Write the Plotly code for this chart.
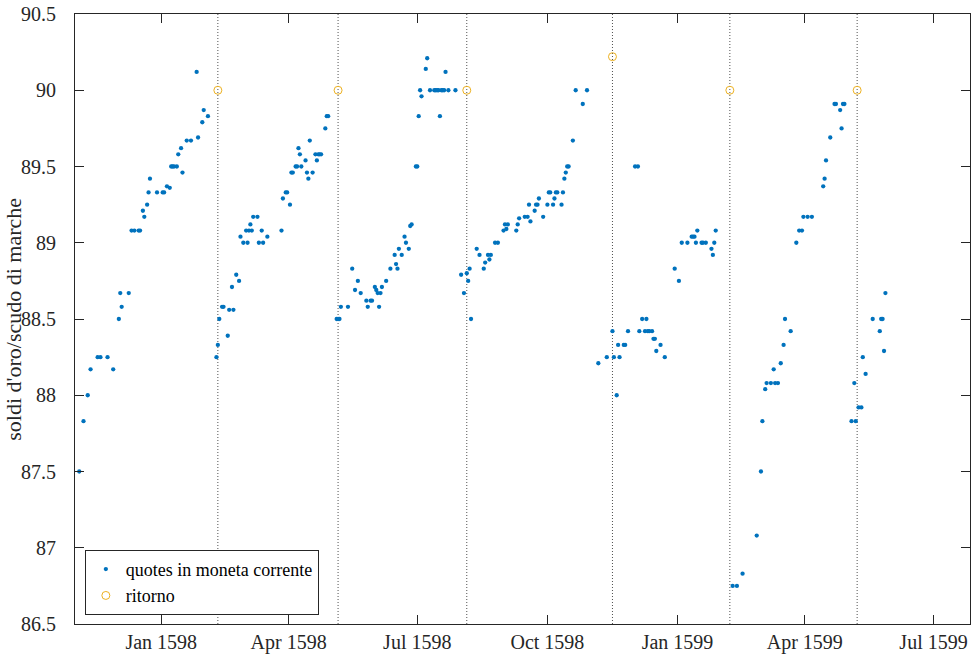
import plotly.graph_objects as go

# ---- data ----
quote_dates = [
    "1597-11-04", "1597-11-07", "1597-11-10", "1597-11-12", "1597-11-17", "1597-11-19",
    "1597-11-24", "1597-11-28", "1597-12-02", "1597-12-03", "1597-12-04", "1597-12-09",
    "1597-12-11", "1597-12-13", "1597-12-16", "1597-12-17", "1597-12-19", "1597-12-20",
    "1597-12-22", "1597-12-23", "1597-12-24", "1597-12-29", "1598-01-02", "1598-01-03",
    "1598-01-05", "1598-01-07", "1598-01-08", "1598-01-09", "1598-01-10", "1598-01-12",
    "1598-01-13", "1598-01-15", "1598-01-16", "1598-01-19", "1598-01-22", "1598-01-26",
    "1598-01-27", "1598-01-30", "1598-01-31", "1598-02-03",
    # after Feb 1598 return
    "1598-02-09", "1598-02-10", "1598-02-11", "1598-02-13", "1598-02-14", "1598-02-17",
    "1598-02-18", "1598-02-20", "1598-02-21", "1598-02-23", "1598-02-25", "1598-02-26",
    "1598-02-28", "1598-03-02", "1598-03-03", "1598-03-04", "1598-03-05", "1598-03-06",
    "1598-03-07", "1598-03-10", "1598-03-11", "1598-03-13", "1598-03-14", "1598-03-17",
    "1598-03-27", "1598-03-28", "1598-03-30", "1598-03-31", "1598-04-02", "1598-04-03",
    "1598-04-04", "1598-04-06", "1598-04-07", "1598-04-08", "1598-04-09", "1598-04-10",
    "1598-04-13", "1598-04-14", "1598-04-15", "1598-04-16", "1598-04-18", "1598-04-20",
    "1598-04-21", "1598-04-22", "1598-04-23", "1598-04-24", "1598-04-27", "1598-04-28",
    "1598-04-29",
    # after May 1598 return
    "1598-05-05", "1598-05-06", "1598-05-07", "1598-05-08", "1598-05-13", "1598-05-16",
    "1598-05-18", "1598-05-20", "1598-05-22", "1598-05-26", "1598-05-27", "1598-05-29",
    "1598-05-30", "1598-06-01", "1598-06-02", "1598-06-03", "1598-06-04", "1598-06-05",
    "1598-06-06", "1598-06-09", "1598-06-12", "1598-06-15", "1598-06-16", "1598-06-17",
    "1598-06-18", "1598-06-20", "1598-06-22", "1598-06-23", "1598-06-25", "1598-06-26",
    "1598-06-27", "1598-06-30", "1598-07-01", "1598-07-02", "1598-07-03", "1598-07-04",
    "1598-07-07", "1598-07-08", "1598-07-10", "1598-07-13", "1598-07-14", "1598-07-15",
    "1598-07-16", "1598-07-17", "1598-07-18", "1598-07-19", "1598-07-20", "1598-07-21",
    "1598-07-23", "1598-07-28",
    # after Aug 1598 return
    "1598-08-01", "1598-08-03", "1598-08-05", "1598-08-06", "1598-08-07", "1598-08-08",
    "1598-08-12", "1598-08-14", "1598-08-17", "1598-08-18", "1598-08-20", "1598-08-21",
    "1598-08-22", "1598-08-25", "1598-08-27", "1598-08-31", "1598-09-01", "1598-09-02",
    "1598-09-03", "1598-09-09", "1598-09-10", "1598-09-11", "1598-09-15", "1598-09-17",
    "1598-09-18", "1598-09-19", "1598-09-22", "1598-09-23", "1598-09-24", "1598-09-25",
    "1598-09-28", "1598-10-01", "1598-10-02", "1598-10-03", "1598-10-05", "1598-10-06",
    "1598-10-07", "1598-10-08", "1598-10-11", "1598-10-12", "1598-10-13", "1598-10-14",
    "1598-10-15", "1598-10-16", "1598-10-19", "1598-10-21", "1598-10-26", "1598-10-29",
    # after Nov 1598 return
    "1598-11-06", "1598-11-12", "1598-11-16", "1598-11-17", "1598-11-19", "1598-11-20",
    "1598-11-21", "1598-11-24", "1598-11-25", "1598-11-27", "1598-12-02", "1598-12-04",
    "1598-12-05", "1598-12-07", "1598-12-09", "1598-12-10", "1598-12-11", "1598-12-12",
    "1598-12-14", "1598-12-15", "1598-12-16", "1598-12-17", "1598-12-20", "1598-12-23",
    "1598-12-30", "1599-01-02", "1599-01-04", "1599-01-08", "1599-01-11", "1599-01-12",
    "1599-01-13", "1599-01-14", "1599-01-15", "1599-01-18", "1599-01-19", "1599-01-21",
    "1599-01-25", "1599-01-26", "1599-01-27", "1599-01-28",
    # after Feb 1599 return
    "1599-02-09", "1599-02-12", "1599-02-16", "1599-02-26", "1599-03-01", "1599-03-02",
    "1599-03-04", "1599-03-05", "1599-03-08", "1599-03-10", "1599-03-11", "1599-03-13",
    "1599-03-15", "1599-03-17", "1599-03-18", "1599-03-22", "1599-03-26", "1599-03-28",
    "1599-03-30", "1599-03-31", "1599-04-03", "1599-04-06", "1599-04-14", "1599-04-15",
    "1599-04-16", "1599-04-19", "1599-04-22", "1599-04-23", "1599-04-26", "1599-04-27",
    "1599-04-28", "1599-04-29",
    # after May 1599 return
    "1599-05-04", "1599-05-06", "1599-05-07", "1599-05-09", "1599-05-11", "1599-05-12",
    "1599-05-14", "1599-05-19", "1599-05-24", "1599-05-25", "1599-05-26", "1599-05-27",
    "1599-05-28",
]

quote_values = [
    87.50, 87.83, 88.00, 88.17, 88.25, 88.25,
    88.25, 88.17, 88.50, 88.67, 88.58, 88.67,
    89.08, 89.08, 89.08, 89.08, 89.21, 89.17,
    89.25, 89.33, 89.42, 89.33, 89.33, 89.33,
    89.37, 89.36, 89.50, 89.50, 89.50, 89.50,
    89.58, 89.62, 89.46, 89.67, 89.67, 90.12,
    89.69, 89.79, 89.87, 89.83,
    88.25, 88.33, 88.50, 88.58, 88.58, 88.39,
    88.56, 88.71, 88.56, 88.79, 88.75, 89.04,
    89.00, 89.08, 89.00, 89.08, 89.12, 89.08,
    89.17, 89.17, 89.00, 89.08, 89.00, 89.04,
    89.08, 89.29, 89.33, 89.33, 89.25, 89.46,
    89.46, 89.50, 89.50, 89.62, 89.58, 89.50,
    89.54, 89.46, 89.42, 89.67, 89.46, 89.58,
    89.54, 89.58, 89.58, 89.58, 89.75, 89.83,
    89.83,
    88.50, 88.50, 88.50, 88.58, 88.58, 88.83,
    88.69, 88.75, 88.67, 88.62, 88.58, 88.62,
    88.62, 88.71, 88.69, 88.67, 88.58, 88.67,
    88.71, 88.75, 88.83, 88.92, 88.86, 88.83,
    88.96, 88.92, 89.04, 89.00, 88.96, 89.11,
    89.12, 89.50, 89.50, 89.83, 90.00, 89.96,
    90.14, 90.21, 90.00, 90.00, 90.00, 90.00,
    90.00, 89.83, 90.00, 90.00, 90.00, 90.12,
    90.00, 90.00,
    88.79, 88.67, 88.80, 88.75, 88.83, 88.50,
    88.96, 88.92, 88.83, 88.87, 88.92, 88.89,
    88.92, 89.00, 89.00, 89.08, 89.12, 89.09,
    89.12, 89.08, 89.12, 89.16, 89.17, 89.17,
    89.25, 89.14, 89.21, 89.25, 89.25, 89.29,
    89.17, 89.25, 89.33, 89.33, 89.25, 89.29,
    89.33, 89.33, 89.25, 89.33, 89.42, 89.46,
    89.50, 89.50, 89.67, 90.00, 89.91, 90.00,
    88.21, 88.25, 88.42, 88.25, 88.00, 88.33,
    88.25, 88.33, 88.33, 88.42, 89.50, 89.50,
    88.42, 88.50, 88.42, 88.50, 88.42, 88.42,
    88.42, 88.37, 88.37, 88.29, 88.33, 88.25,
    88.83, 88.75, 89.00, 89.00, 89.04, 89.04,
    89.04, 89.00, 89.08, 89.00, 89.00, 89.00,
    88.96, 88.92, 89.00, 89.08,
    86.75, 86.75, 86.83, 87.08, 87.50, 87.83,
    88.04, 88.08, 88.08, 88.17, 88.08, 88.08,
    88.21, 88.33, 88.50, 88.42, 89.00, 89.08,
    89.08, 89.17, 89.17, 89.17, 89.37, 89.42,
    89.54, 89.69, 89.91, 89.91, 89.87, 89.75,
    89.91, 89.91,
    87.83, 88.08, 87.83, 87.92, 87.92, 88.25,
    88.14, 88.50, 88.42, 88.50, 88.50, 88.29,
    88.67,
]

ritorno_dates = ["1598-02-10", "1598-05-06", "1598-08-05", "1598-11-16", "1599-02-07", "1599-05-08"]
ritorno_values = [90.0, 90.0, 90.0, 90.22, 90.0, 90.0]

x_tick_vals = ["1598-01-01", "1598-04-01", "1598-07-01", "1598-10-01", "1599-01-01", "1599-04-01", "1599-07-01"]
x_tick_text = ["Jan 1598", "Apr 1598", "Jul 1598", "Oct 1598", "Jan 1599", "Apr 1599", "Jul 1599"]
y_tick_vals = [86.5, 87, 87.5, 88, 88.5, 89, 89.5, 90, 90.5]
y_tick_text = ["86.5", "87", "87.5", "88", "88.5", "89", "89.5", "90", "90.5"]
y_title = "soldi d'oro/scudo di marche"

FONT = "Liberation Serif"
AX = "#262626"

fig = go.Figure()

for d in ritorno_dates:
    fig.add_shape(type="line", xref="x", yref="paper", x0=d, x1=d, y0=0, y1=1,
                  line=dict(color="#505050", width=1, dash="1px,2px"), layer="below")

fig.add_trace(go.Scatter(
    x=quote_dates, y=quote_values, mode="markers",
    name="quotes in moneta corrente",
    marker=dict(color="#0072BD", size=4.3, line=dict(width=0)),
))
fig.add_trace(go.Scatter(
    x=ritorno_dates, y=ritorno_values, mode="markers",
    name="ritorno",
    marker=dict(symbol="circle-open", color="#EDB120", size=8, line=dict(width=1)),
))

fig.add_annotation(
    text=y_title, xref="paper", yref="paper", x=-0.0695, y=0.5,
    xanchor="center", yanchor="middle", textangle=-90, showarrow=False,
    font=dict(family=FONT, size=22, color=AX),
)

fig.update_layout(
    width=971, height=655,
    margin=dict(l=75, r=1, t=14, b=31, autoexpand=False),
    paper_bgcolor="white", plot_bgcolor="white",
    font=dict(family=FONT, size=20, color=AX),
    showlegend=True,
    legend=dict(
        x=0.011, y=0.015, xanchor="left", yanchor="bottom",
        bgcolor="white", bordercolor=AX, borderwidth=1,
        font=dict(family=FONT, size=18, color="#000000"),
        itemsizing="trace", tracegroupgap=0,
    ),
)
fig.update_xaxes(
    type="date", automargin=False,
    range=["1597-11-01", "1599-07-26 19:00"],
    tickvals=x_tick_vals, ticktext=x_tick_text,
    ticks="inside", ticklen=9, tickwidth=1, tickcolor=AX,
    showline=True, linecolor=AX, linewidth=1, mirror="ticks",
    showgrid=False, zeroline=False,
    tickfont=dict(family=FONT, size=20, color=AX),
)
fig.update_yaxes(
    automargin=False,
    range=[86.5, 90.5],
    tickvals=y_tick_vals, ticktext=y_tick_text,
    ticks="inside", ticklen=9, tickwidth=1, tickcolor=AX,
    showline=True, linecolor=AX, linewidth=1, mirror="ticks",
    showgrid=False, zeroline=False,
    tickfont=dict(family=FONT, size=20, color=AX),
    ticklabelstandoff=14,
)

# remove the page's default 8px body margin so the figure fills the window
fig.write_html("out.html", config={"displayModeBar": False},
               post_script="document.body.style.margin='0';")
